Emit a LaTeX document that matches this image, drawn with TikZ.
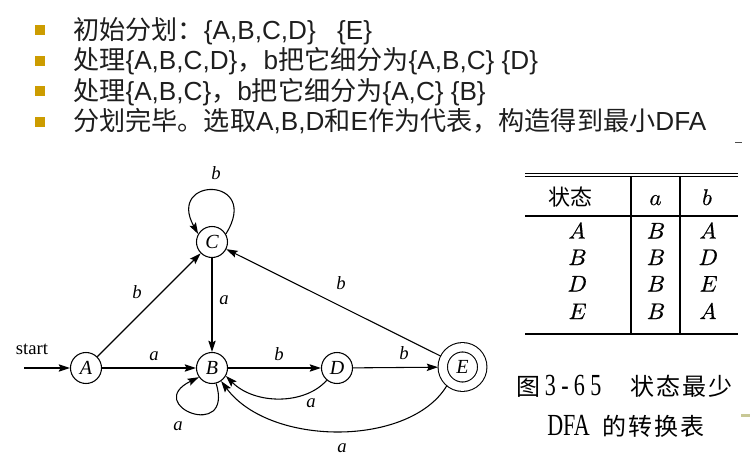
\documentclass[tikz,border=0pt]{standalone}
\usepackage{fontspec}
\setmainfont{Liberation Serif}
\newfontfamily\cjk{Noto Sans CJK SC}
\newfontfamily\cjkcap[LetterSpace=8]{Noto Sans CJK SC}
\newfontfamily\arial{Liberation Sans}
\newfontfamily\capserif[FakeStretch=0.72]{Liberation Serif}
\newfontfamily\lmmath[FakeBold=0.6]{latinmodern-math.otf}
\usetikzlibrary{arrows.meta}
\definecolor{bulletgold}{RGB}{204,156,0}
\definecolor{slidetext}{RGB}{30,30,30}
\definecolor{olivemark}{RGB}{200,200,150}
\newcommand{\zh}[1]{{\cjk #1}}
\begin{document}
\begin{tikzpicture}[x=0.75pt,y=-0.75pt,
  state/.style={draw, circle, minimum size=23.25pt, inner sep=0pt, line width=0.8pt,
    font=\fontsize{15}{17}\selectfont\itshape},
  accstate/.style={state, double, double distance=6.2pt, minimum size=29.6pt, outer sep=3.5pt},
  edge/.style={line width=0.8pt, -{Stealth[length=8.5pt,width=5.5pt,inset=1.5pt]}},
  lab/.style={font=\fontsize{14}{16}\selectfont\itshape, inner sep=0pt},
  bulletbox/.style={fill=bulletgold, minimum size=7.5pt, inner sep=0pt},
  slideline/.style={anchor=base west, inner sep=0pt, text=slidetext,
    font=\arial\fontsize{19.6}{22}\selectfont},
  tab/.style={anchor=base, inner sep=0pt, font=\lmmath\fontsize{17}{19}\selectfont},
  tabrule/.style={line width=0.8pt},
  caption/.style={anchor=base west, inner sep=0pt, font=\fontsize{18}{20}\selectfont}
]
\useasboundingbox (0,0) rectangle (750,467);

% bullets and slide text
\node[bulletbox] (q1) at (40,30) {};
\node[bulletbox] (q2) at (40,61) {};
\node[bulletbox] (q3) at (40,91) {};
\node[bulletbox] (q4) at (40,122) {};
\node[slideline] (t1) at (73,39.5) {\zh{初始分划：}\{A,B,C,D\}\hspace{16pt}\{E\}};
\node[slideline] (t2) at (73,69.5) {\zh{处理}\{A,B,C,D\}\zh{，}b\zh{把它细分为}\{A,B,C\} \{D\}};
\node[slideline] (t3) at (73,100) {\zh{处理}\{A,B,C\}\zh{，}b\zh{把它细分为}\{A,C\} \{B\}};
\node[slideline] (t4) at (73,130) {\zh{分划完毕。选取}A,B,D\zh{和}E\zh{作为代表，构造得到最小}DFA};

% automaton
\node[state] (A) at (86,368) {A};
\node[state] (B) at (212,368) {B};
\node[state] (C) at (212,242) {C};
\node[state] (D) at (337,368) {D};
\node[accstate] (E) at (462.5,367) {E};
\coordinate (s) at (24,368);
\node[inner sep=0pt, font=\fontsize{14}{16}\selectfont] (startlab) at (32,349) {start};

\draw[edge] (s) -- (A);
\draw[edge] (A) -- (C);
\draw[edge] (A) -- (B);
\draw[edge] (C) -- (B);
\draw[edge] (B) -- (D);
\draw[edge] (D) -- (E);
\draw[edge] (E) -- (C);
\draw[edge] (C.30) .. controls (262,176) and (166,176) .. (C.150);
\draw[edge] (B.-75) .. controls (234,442) and (142,405) .. (B.-145);
\draw[edge] (D.-130) .. controls (305,405) and (255,405) .. (B.-30);
\draw[edge] (E.-130) .. controls (410,447) and (270,447) .. (B.-55);

\node[lab] (l1) at (216,173) {b};
\node[lab] (l2) at (137,292) {b};
\node[lab] (l3) at (224,300) {a};
\node[lab] (l4) at (341,283) {b};
\node[lab] (l5) at (154,356) {a};
\node[lab] (l6) at (279,354) {b};
\node[lab] (l7) at (404,353) {b};
\node[lab] (l8) at (311,403) {a};
\node[lab] (l9) at (178,426) {a};
\node[lab] (l10) at (342,448) {a};

% table
\draw[tabrule, line width=0.7pt] (525,173) -- (738,173);
\draw[tabrule, line width=1pt] (525,176.5) -- (738,176.5);
\draw[tabrule] (525,216) -- (738,216);
\draw[tabrule] (525,334) -- (738,334);
\draw[tabrule] (631,177) -- (631,334);
\draw[tabrule] (680,177) -- (680,334);
\node[tab] (h1) at (570,205) {\cjk\fontsize{16.5}{18}\selectfont 状态};
\node[tab] (h2) at (655.5,205) {𝑎};
\node[tab] (h3) at (707,205) {𝑏};
\node[tab] (r1a) at (577,238.5) {𝐴};
\node[tab] (r1b) at (655.5,238.5) {𝐵};
\node[tab] (r1c) at (708,238.5) {𝐴};
\node[tab] (r2a) at (577,265) {𝐵};
\node[tab] (r2b) at (655.5,265) {𝐵};
\node[tab] (r2c) at (708,265) {𝐷};
\node[tab] (r3a) at (577,291.5) {𝐷};
\node[tab] (r3b) at (655.5,291.5) {𝐵};
\node[tab] (r3c) at (708,291.5) {𝐸};
\node[tab] (r4a) at (577,319) {𝐸};
\node[tab] (r4b) at (655.5,319) {𝐵};
\node[tab] (r4c) at (708,319) {𝐴};

% caption
\node[caption] (cap1) at (516,395) {{\cjk 图}\hspace{3.5pt}{\capserif\fontsize{23}{25}\selectfont 3\kern4pt-\kern4pt6\kern4pt5}\hspace{22pt}{\cjkcap 状态最少}};
\node[caption] (cap2) at (547,435) {{\capserif\fontsize{23}{25}\selectfont DFA}\hspace{9.5pt}{\cjkcap 的转换表}};

% small marks at the right edge
\draw[line width=1pt, black!70] (735,142.5) -- (742,142.5);
\fill[olivemark] (741,413.5) rectangle (750,416.5);
\end{tikzpicture}
\end{document}
